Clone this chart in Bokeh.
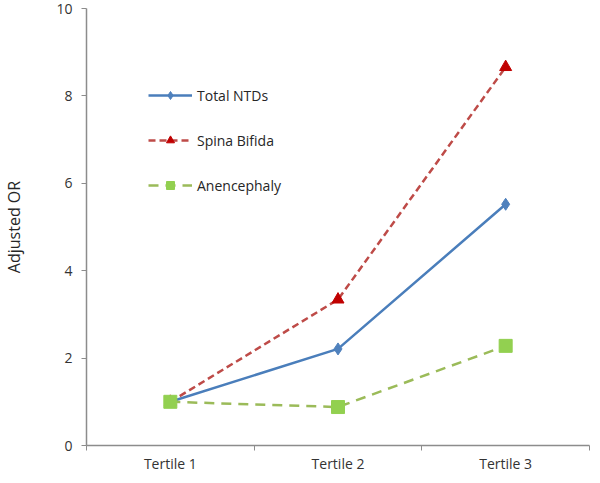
from bokeh.plotting import figure
from bokeh.models import Range1d, FixedTicker, Legend, LegendItem
from bokeh.embed import file_html
from bokeh.resources import INLINE

categories = ["Tertile 1", "Tertile 2", "Tertile 3"]
total_ntds = [1.0, 2.21, 5.52]
spina_bifida = [1.0, 3.34, 8.66]
anencephaly = [1.0, 0.88, 2.28]
y_ticks = [0, 2, 4, 6, 8, 10]

xs = list(range(1, len(categories) + 1))
FONT = "Open Sans"

p = figure(width=592, height=475, output_backend="svg", toolbar_location=None,
           x_range=Range1d(0.5, len(categories) + 0.5), y_range=Range1d(0, 10),
           min_border_left=85, min_border_right=3, min_border_top=8, min_border_bottom=20)
p.outline_line_color = None
p.grid.grid_line_color = None
p.background_fill_color = "white"

# lines and markers
l1 = p.line(xs, total_ntds, line_color="#4A7EBB", line_width=2.5)
m1 = p.scatter(xs, total_ntds, marker="diamond", size=12, fill_color="#4F81BD", line_color="#4F81BD")
l2 = p.line(xs, spina_bifida, line_color="#BE4B48", line_width=2.5, line_dash="7 4")
m2 = p.scatter(xs, spina_bifida, marker="triangle", size=12, fill_color="#C00000", line_color="#C00000")
l3 = p.line(xs, anencephaly, line_color="#9BBB59", line_width=2.5, line_dash="10 7")
m3 = p.scatter(xs, anencephaly, marker="square", size=13, fill_color="#92D050", line_color="#92D050")

legend = Legend(items=[
    LegendItem(label="Total NTDs", renderers=[l1, m1]),
    LegendItem(label="Spina Bifida", renderers=[l2, m2]),
    LegendItem(label="Anencephaly", renderers=[l3, m3]),
], location=(62, 250))
legend.glyph_width = 44
legend.glyph_height = 20
legend.label_height = 20
legend.spacing = 25
legend.padding = 0
legend.margin = 0
legend.label_standoff = 5
legend.border_line_color = None
legend.background_fill_alpha = 0
legend.label_text_font = FONT
legend.label_text_font_size = "14px"
legend.label_text_color = "#262626"
p.add_layout(legend, "center")

# x axis
xa = p.xaxis[0]
xa.ticker = FixedTicker(ticks=xs, minor_ticks=[x - 0.5 for x in xs] + [xs[-1] + 0.5])
xa.major_label_overrides = {x: c for x, c in zip(xs, categories)}
xa.major_tick_line_color = None
xa.major_tick_in = 0
xa.major_tick_out = 0
xa.minor_tick_line_color = "#8C8C8C"
xa.minor_tick_in = 0
xa.minor_tick_out = 5
xa.axis_line_color = "#8C8C8C"
xa.axis_line_width = 1.5
xa.major_label_text_font = FONT
xa.major_label_text_font_size = "14px"
xa.major_label_text_color = "#333333"
xa.major_label_standoff = 3

# y axis
ya = p.yaxis[0]
ya.ticker = FixedTicker(ticks=y_ticks)
ya.minor_tick_line_color = None
ya.major_tick_line_color = "#8C8C8C"
ya.major_tick_in = 0
ya.major_tick_out = 5
ya.axis_line_color = "#8C8C8C"
ya.axis_line_width = 1.5
ya.major_label_text_font = FONT
ya.major_label_text_font_size = "14px"
ya.major_label_text_color = "#333333"
ya.major_label_standoff = 9
ya.axis_label = "Adjusted OR"
ya.axis_label_text_font = FONT
ya.axis_label_text_font_size = "16px"
ya.axis_label_text_font_style = "normal"
ya.axis_label_text_color = "#262626"
ya.axis_label_standoff = 28

open("out.html", "w").write(file_html(p, INLINE))
